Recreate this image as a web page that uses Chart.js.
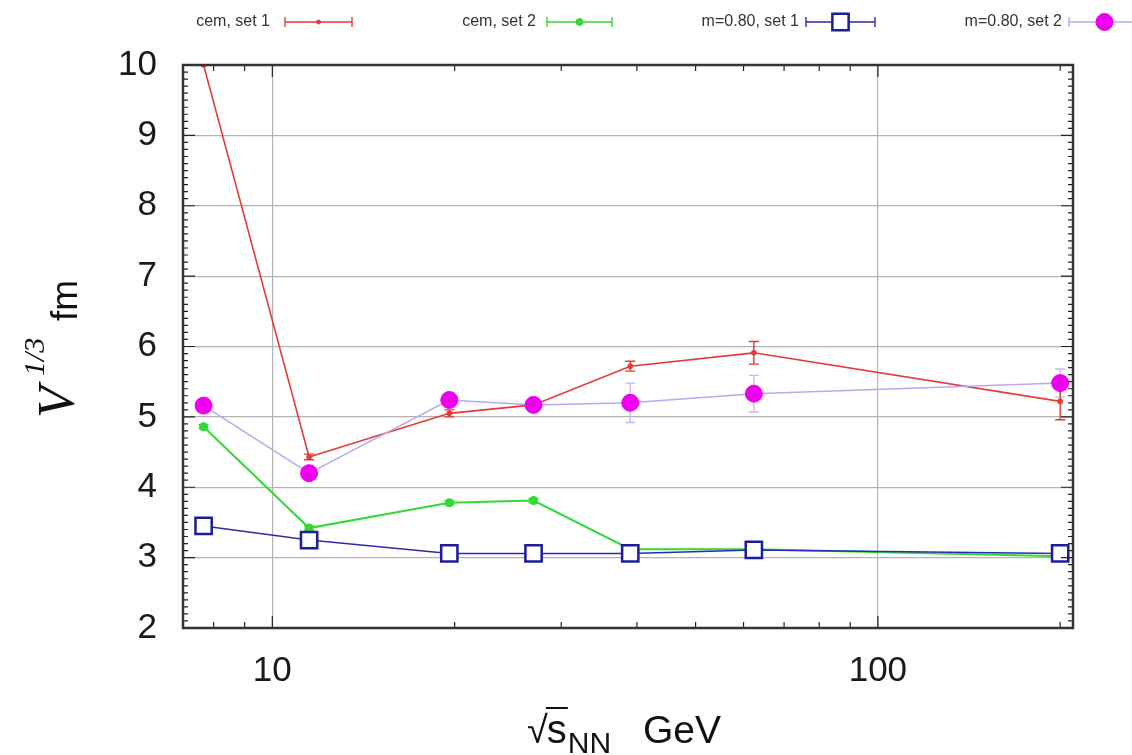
<!DOCTYPE html>
<html>
<head>
<meta charset="utf-8">
<script src="https://cdn.jsdelivr.net/npm/chart.js@4"></script>
<style>
  html, body { margin: 0; background: #fff; }
  #wrap { width: 1132px; height: 755px; }
</style>
</head>
<body>
<div id="wrap"><canvas id="chart"></canvas></div>
<script>
// sqrt(s_NN) energies, GeV
const energies = [7.7, 11.5, 19.6, 27, 39, 62.4, 200];

const cemSet1 = [10.0, 4.43, 5.05, 5.17, 5.72, 5.91, 5.22];
const cemSet1Err = [0, 0.04, 0.05, 0.05, 0.07, 0.16, 0.26];
const cemSet2 = [4.86, 3.42, 3.78, 3.81, 3.12, 3.12, 3.02];
const cemSet2Err = [0.03, 0.03, 0.03, 0.03, 0.03, 0.03, 0.03];
const mSet1 = [3.45, 3.25, 3.06, 3.06, 3.06, 3.11, 3.06];
const mSet1Err = [0.03, 0.03, 0.03, 0.03, 0.03, 0.03, 0.03];
const mSet2 = [5.16, 4.2, 5.24, 5.17, 5.2, 5.33, 5.48];
const mSet2Err = [0.05, 0.05, 0.06, 0.06, 0.28, 0.26, 0.2];

const legendLabels = ["cem, set 1", "cem, set 2", "m=0.80, set 1", "m=0.80, set 2"];
const xMajorTicks = [10, 100];
const xMinorTicks = [8, 9, 20, 30, 40, 50, 60, 70, 80, 90, 200];
const yTicks = [2, 3, 4, 5, 6, 7, 8, 9, 10];

const FONT = '"Liberation Sans", Arial, Helvetica, sans-serif';

function pts(vals) {
  return vals.map((v, i) => ({ x: energies[i], y: v }));
}

const datasets = [
  {
    label: legendLabels[3], data: pts(mSet2), errors: mSet2Err,
    borderColor: "#b9a9f2", borderWidth: 1.5,
    pointStyle: "circle", pointRadius: 8.5,
    pointBackgroundColor: "#ee00ee", pointBorderColor: "#ee00ee", pointBorderWidth: 1,
    errColor: "#c8b8f4", order: 0,
  },
  {
    label: legendLabels[2], data: pts(mSet1), errors: mSet1Err,
    borderColor: "#2b2bb0", borderWidth: 1.5,
    pointStyle: "rect", pointRadius: 11.5,
    pointBackgroundColor: "#ffffff", pointBorderColor: "#1c1c9c", pointBorderWidth: 2.5,
    errColor: "#2b2bb0", order: 1,
  },
  {
    label: legendLabels[0], data: pts(cemSet1), errors: cemSet1Err,
    borderColor: "#e63a35", borderWidth: 1.6,
    pointStyle: "circle", pointRadius: 2,
    pointBackgroundColor: "#e63a35", pointBorderColor: "#e63a35",
    errColor: "#e63a35", order: 2,
  },
  {
    label: legendLabels[1], data: pts(cemSet2), errors: cemSet2Err,
    borderColor: "#35d835", borderWidth: 2,
    pointStyle: "circle", pointRadius: 3.5,
    pointBackgroundColor: "#35d835", pointBorderColor: "#35d835",
    errColor: "#35d835", order: 3,
  },
];

// error bars, drawn beneath the markers
const errorBars = {
  id: "errorBars",
  beforeDatasetsDraw(chart) {
    const { ctx, chartArea: a, scales: { x, y } } = chart;
    ctx.save();
    ctx.beginPath();
    ctx.rect(a.left, a.top, a.right - a.left, a.bottom - a.top);
    ctx.clip();
    chart.data.datasets.forEach((ds) => {
      ctx.strokeStyle = ds.errColor;
      ctx.lineWidth = 1.4;
      ds.data.forEach((p, i) => {
        const e = ds.errors[i];
        if (!e) return;
        const px = x.getPixelForValue(p.x);
        const y1 = y.getPixelForValue(p.y - e);
        const y2 = y.getPixelForValue(p.y + e);
        ctx.beginPath();
        ctx.moveTo(px, y1); ctx.lineTo(px, y2);
        ctx.moveTo(px - 5, y1); ctx.lineTo(px + 5, y1);
        ctx.moveTo(px - 5, y2); ctx.lineTo(px + 5, y2);
        ctx.stroke();
      });
    });
    ctx.restore();
  },
};

// frame with gnuplot-style inward ticks
const frameTicks = {
  id: "frameTicks",
  afterDatasetsDraw(chart) {
    const { ctx, chartArea: a, scales: { x, y } } = chart;
    ctx.save();
    ctx.strokeStyle = "#222";
    ctx.lineWidth = 1.2;
    ctx.beginPath();
    xMajorTicks.concat(xMinorTicks).forEach((v) => {
      const px = x.getPixelForValue(v);
      const len = xMajorTicks.includes(v) ? 12 : 6;
      ctx.moveTo(px, a.bottom); ctx.lineTo(px, a.bottom - len);
      ctx.moveTo(px, a.top); ctx.lineTo(px, a.top + len);
    });
    for (let i = 0; i <= 80; i++) {
      const py = y.getPixelForValue(2 + i / 10);
      const len = i % 10 === 0 ? 12 : 5;
      ctx.moveTo(a.left, py); ctx.lineTo(a.left + len, py);
      ctx.moveTo(a.right, py); ctx.lineTo(a.right - len, py);
    }
    ctx.stroke();
    ctx.lineWidth = 2.5;
    ctx.strokeStyle = "#333";
    ctx.strokeRect(a.left, a.top, a.right - a.left, a.bottom - a.top);
    ctx.restore();
  },
};

// legend row at the top, text left of the sample
const topLegend = {
  id: "topLegend",
  afterDraw(chart) {
    const { ctx } = chart;
    const slots = [
      { ds: 2, right: 270, x0: 285, x1: 352, w: 90 },
      { ds: 3, right: 536, x0: 547, x1: 612, w: 92 },
      { ds: 1, right: 799, x0: 806, x1: 875, w: 128 },
      { ds: 0, right: 1062, x0: 1069, x1: 1140, w: 126 },
    ];
    const yc = 22;
    ctx.save();
    slots.forEach((s) => {
      const ds = chart.data.datasets[s.ds];
      ctx.font = "16px " + FONT;
      ctx.fillStyle = "#333";
      ctx.textAlign = "right";
      ctx.textBaseline = "middle";
      ctx.fillText(ds.label, s.right, yc, s.w);
      ctx.strokeStyle = ds.borderColor;
      ctx.lineWidth = 1.4;
      ctx.beginPath();
      ctx.moveTo(s.x0, yc); ctx.lineTo(s.x1, yc);
      ctx.moveTo(s.x0, yc - 5); ctx.lineTo(s.x0, yc + 5);
      ctx.moveTo(s.x1, yc - 5); ctx.lineTo(s.x1, yc + 5);
      ctx.stroke();
      const xm = (s.x0 + s.x1) / 2;
      ctx.fillStyle = ds.pointBackgroundColor;
      ctx.strokeStyle = ds.pointBorderColor;
      ctx.lineWidth = ds.pointBorderWidth || 1;
      Chart.helpers.drawPoint(ctx, {
        pointStyle: ds.pointStyle,
        radius: ds.pointRadius,
        borderWidth: ds.pointBorderWidth || 1,
      }, xm, yc);
    });
    ctx.restore();
  },
};

// axis titles with sub/superscripts
const axisTitles = {
  id: "axisTitles",
  afterDraw(chart) {
    const { ctx } = chart;
    ctx.save();
    ctx.fillStyle = "#111";
    ctx.textBaseline = "alphabetic";
    ctx.textAlign = "left";

    // x: sqrt(s)_NN GeV
    const x0 = 527;
    const base = 743;
    ctx.font = "38px " + FONT;
    ctx.fillText("\u221A", x0, base);
    const wRoot = ctx.measureText("\u221A").width;
    ctx.font = "40px " + FONT;
    ctx.fillText("s", x0 + wRoot - 1, base);
    const wS = ctx.measureText("s").width;
    ctx.strokeStyle = "#111";
    ctx.lineWidth = 2;
    ctx.beginPath();
    ctx.moveTo(x0 + wRoot - 2, base - 35);
    ctx.lineTo(x0 + wRoot + wS, base - 35);
    ctx.stroke();
    ctx.font = "30px " + FONT;
    ctx.fillText("NN", x0 + wRoot + wS, base + 10);
    ctx.font = "39px " + FONT;
    ctx.fillText("GeV", 643, base);

    // y: V^{1/3} fm
    ctx.translate(74, 418);
    ctx.rotate(-Math.PI / 2);
    ctx.font = "italic 52px \"Liberation Serif\", serif";
    ctx.fillText("V", 0, 0);
    ctx.font = "italic 30px \"Liberation Serif\", serif";
    ctx.fillText("1/3", 42, -30);
    ctx.font = "37px " + FONT;
    ctx.fillText("fm", 97, 3);
    ctx.restore();
  },
};

new Chart(document.getElementById("chart"), {
  type: "line",
  data: { datasets },
  options: {
    responsive: true,
    maintainAspectRatio: false,
    animation: false,
    layout: { padding: { top: 65, right: 59, left: 0, bottom: 0 } },
    plugins: { legend: { display: false }, tooltip: { enabled: false } },
    elements: { line: { tension: 0 } },
    scales: {
      x: {
        type: "logarithmic",
        min: 7.12,
        max: 210,
        afterBuildTicks(scale) {
          scale.ticks = xMajorTicks.map((v) => ({ value: v }));
        },
        afterFit(scale) { scale.height = 127; },
        ticks: {
          autoSkip: false,
          maxRotation: 0,
          padding: 22,
          color: "#1a1a1a",
          font: { size: 35, family: FONT },
          callback: (v) => String(v),
        },
        grid: { color: "#b4b4b4", lineWidth: 1.2, drawTicks: false },
        border: { display: false },
      },
      y: {
        min: 2,
        max: 10,
        afterBuildTicks(scale) {
          scale.ticks = yTicks.map((v) => ({ value: v }));
        },
        afterFit(scale) { scale.width = 183; },
        ticks: {
          padding: 26,
          color: "#1a1a1a",
          font: { size: 35, family: FONT },
          callback: (v) => String(v),
        },
        grid: { color: "#b4b4b4", lineWidth: 1.2, drawTicks: false },
        border: { display: false },
      },
    },
  },
  plugins: [errorBars, frameTicks, topLegend, axisTitles],
});
</script>
</body>
</html>
